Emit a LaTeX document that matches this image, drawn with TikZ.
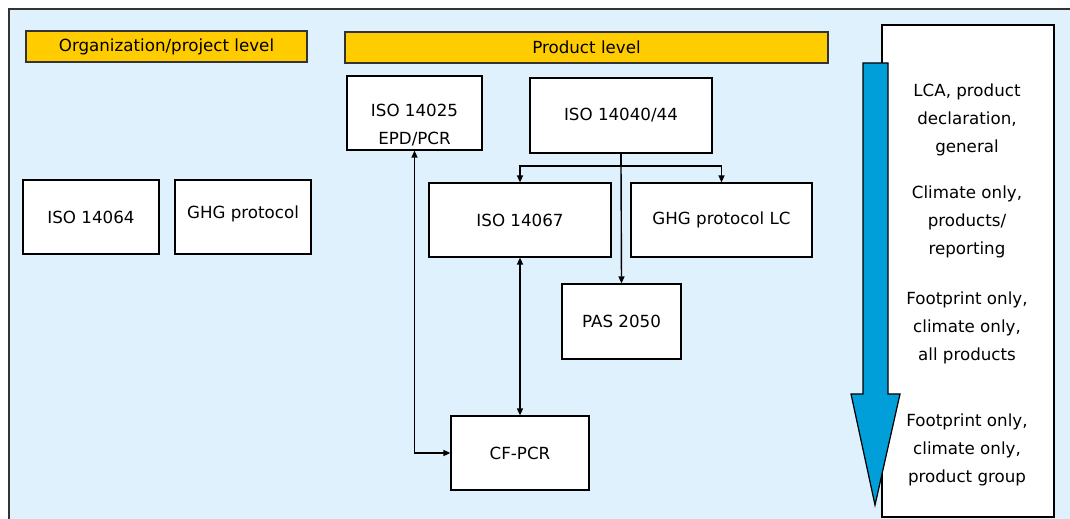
\documentclass[tikz,border=0pt]{standalone}
\usepackage{fontspec}
\setmainfont{DejaVu Sans}
\usetikzlibrary{arrows.meta}
\definecolor{bgblue}{HTML}{E0F1FE}
\definecolor{baryellow}{HTML}{FFCC00}
\definecolor{arrowblue}{HTML}{009FDA}
\begin{document}
\begin{tikzpicture}[x=0.02cm,y=-0.02cm,
  every node/.style={font=\fontsize{9.5}{16}\selectfont},
  box/.style={draw=black, line width=0.7pt, fill=white, inner sep=0pt, align=center},
  bar/.style={draw=black!80, line width=0.7pt, fill=baryellow, inner sep=0pt, minimum height=0.62cm},
  lbl/.style={inner sep=0pt, align=center},
  conn/.style={line width=0.8pt, -{Triangle[length=1.4mm,width=1.2mm]}},
  dconn/.style={line width=0.8pt, {Triangle[length=1.4mm,width=1.2mm]}-{Triangle[length=1.4mm,width=1.2mm]}}
]
\useasboundingbox (0,0) rectangle (1070,519);
\fill[bgblue] (9,9) rectangle (1080,530);
\draw[black!80, line width=0.7pt] (9,530) -- (9,9) -- (1080,9);

% bars
\node[bar, minimum width=5.62cm] (orgbar) at (166.5,46.5) {Organization/project level};
\node[bar, minimum width=9.66cm] (prodbar) at (586.5,47.5) {Product level};

% organization boxes
\node[box, minimum width=2.72cm, minimum height=1.48cm] (iso14064) at (91,217) {ISO 14064};
\node[box, minimum width=2.72cm, minimum height=1.48cm] (ghg) at (243,217) {};
\node[lbl] (ghgt) at (243,214) {GHG protocol};

% product boxes
\node[box, minimum width=2.70cm, minimum height=1.48cm] (iso14025) at (414.5,113) {};
\node[lbl] (iso14025t) at (414.5,125) {ISO 14025\\EPD/PCR};
\node[box, minimum width=3.64cm, minimum height=1.5cm] (iso14040) at (621,115.5) {ISO 14040/44};
\node[box, minimum width=3.64cm, minimum height=1.48cm] (iso14067) at (520,220) {ISO 14067};
\node[box, minimum width=3.62cm, minimum height=1.48cm] (ghglc) at (721.5,220) {GHG protocol LC};
\node[box, minimum width=2.38cm, minimum height=1.5cm] (pas) at (621.5,321.5) {PAS 2050};
\node[box, minimum width=2.76cm, minimum height=1.48cm] (cfpcr) at (520,453) {CF-PCR};

% connectors
\coordinate (branch) at (621,166);
\draw[line width=0.8pt] (iso14040.south) -- (branch);
\draw[conn] (branch) -| (iso14067.north);
\draw[conn] (branch) -| (ghglc.north);
\draw[conn] (branch) -- (pas.north);
\draw[dconn] (iso14067.south) -- (cfpcr.north);
\draw[dconn] (iso14025.south) |- (cfpcr.west);

% right box
\node[box, minimum width=3.44cm, minimum height=9.84cm] (rbox) at (968,271) {};
\node[lbl] (r1) at (967,120) {LCA, product\\declaration,\\general};
\node[lbl] (r2) at (967,222) {Climate only,\\products/\\reporting};
\node[lbl] (r3) at (967,328) {Footprint only,\\climate only,\\all products};
\node[lbl] (r4) at (967,450) {Footprint only,\\climate only,\\product group};

% blue arrow
\draw[fill=arrowblue, draw=black, line width=0.7pt]
  (863,63) -- (888,63) -- (888,394) -- (900,394) -- (875,505) -- (851,394) -- (863,394) -- cycle;
\end{tikzpicture}
\end{document}
